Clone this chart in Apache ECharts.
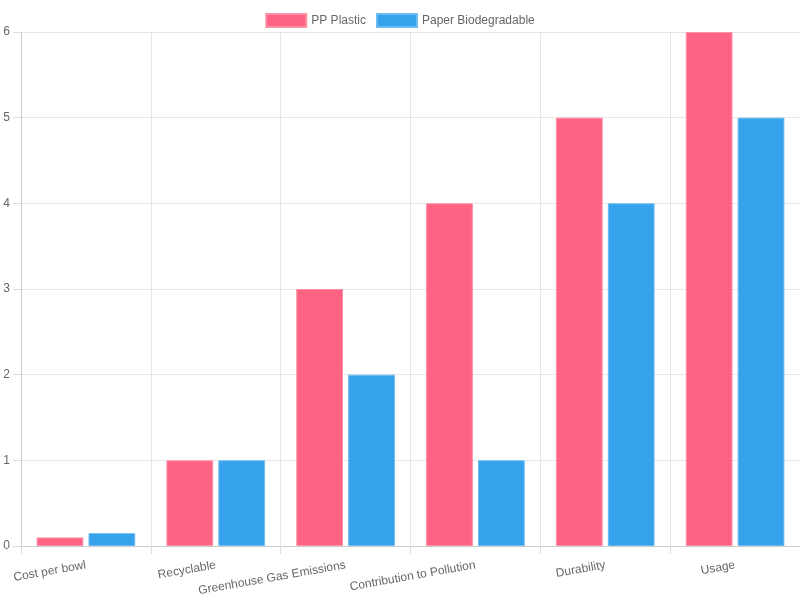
<!DOCTYPE html>
<html>
<head>
<meta charset="utf-8">
<script src="https://cdn.jsdelivr.net/npm/echarts@6/dist/echarts.min.js"></script>
<style>
  html, body { margin: 0; padding: 0; background: #fff; }
  #chart { width: 800px; height: 600px; }
</style>
</head>
<body>
<div id="chart"></div>
<script>
  // 类别与数值
  const categories = ['Cost per bowl', 'Recyclable', 'Greenhouse Gas Emissions', 'Contribution to Pollution', 'Durability', 'Usage']
  const ppPlastic = [0.1, 1, 3, 4, 5, 6]
  const paperBio = [0.15, 1, 2, 1, 4, 5]
  const yTicks = [0, 1, 2, 3, 4, 5, 6]

  const chart = echarts.init(document.getElementById('chart'))
  const font = 'Liberation Sans, Arial, sans-serif'

  const option = {
    animation: false,
    textStyle: { fontFamily: font },
    legend: {
      top: 8,
      left: 'center',
      itemWidth: 40,
      itemHeight: 13,
      itemGap: 10,
      icon: 'rect',
      textStyle: { color: '#666', fontSize: 12, fontFamily: font },
      data: ['PP Plastic', 'Paper Biodegradable']
    },
    grid: { left: 21, right: 0, top: 32, bottom: 54, containLabel: false },
    xAxis: {
      type: 'category',
      data: categories,
      boundaryGap: true,
      axisLine: { lineStyle: { color: '#ccc' } },
      axisTick: { show: true, length: 8, lineStyle: { color: '#ddd' } },
      splitLine: { show: true, lineStyle: { color: '#e6e6e6' } },
      axisLabel: {
        rotate: 10,
        interval: 0,
        margin: 19,
        color: '#666',
        fontSize: 12,
        fontFamily: font
      }
    },
    yAxis: {
      type: 'value',
      min: yTicks[0],
      max: yTicks[yTicks.length - 1],
      interval: 1,
      axisLine: { show: true, lineStyle: { color: '#ccc' } },
      axisTick: { show: true, length: 8, lineStyle: { color: '#ddd' } },
      splitLine: { lineStyle: { color: '#e6e6e6' } },
      axisLabel: { color: '#666', fontSize: 12, margin: 11, fontFamily: font }
    },
    series: [
      {
        name: 'PP Plastic',
        type: 'bar',
        data: ppPlastic,
        barWidth: '36%',
        barGap: '11%',
        itemStyle: { color: '#ff6384', borderColor: '#ff8fa6', borderWidth: 1 }
      },
      {
        name: 'Paper Biodegradable',
        type: 'bar',
        data: paperBio,
        barWidth: '36%',
        barGap: '11%',
        itemStyle: { color: '#36a2eb', borderColor: '#6cbcf2', borderWidth: 1 }
      }
    ]
  }
  chart.setOption(option)
</script>
</body>
</html>
